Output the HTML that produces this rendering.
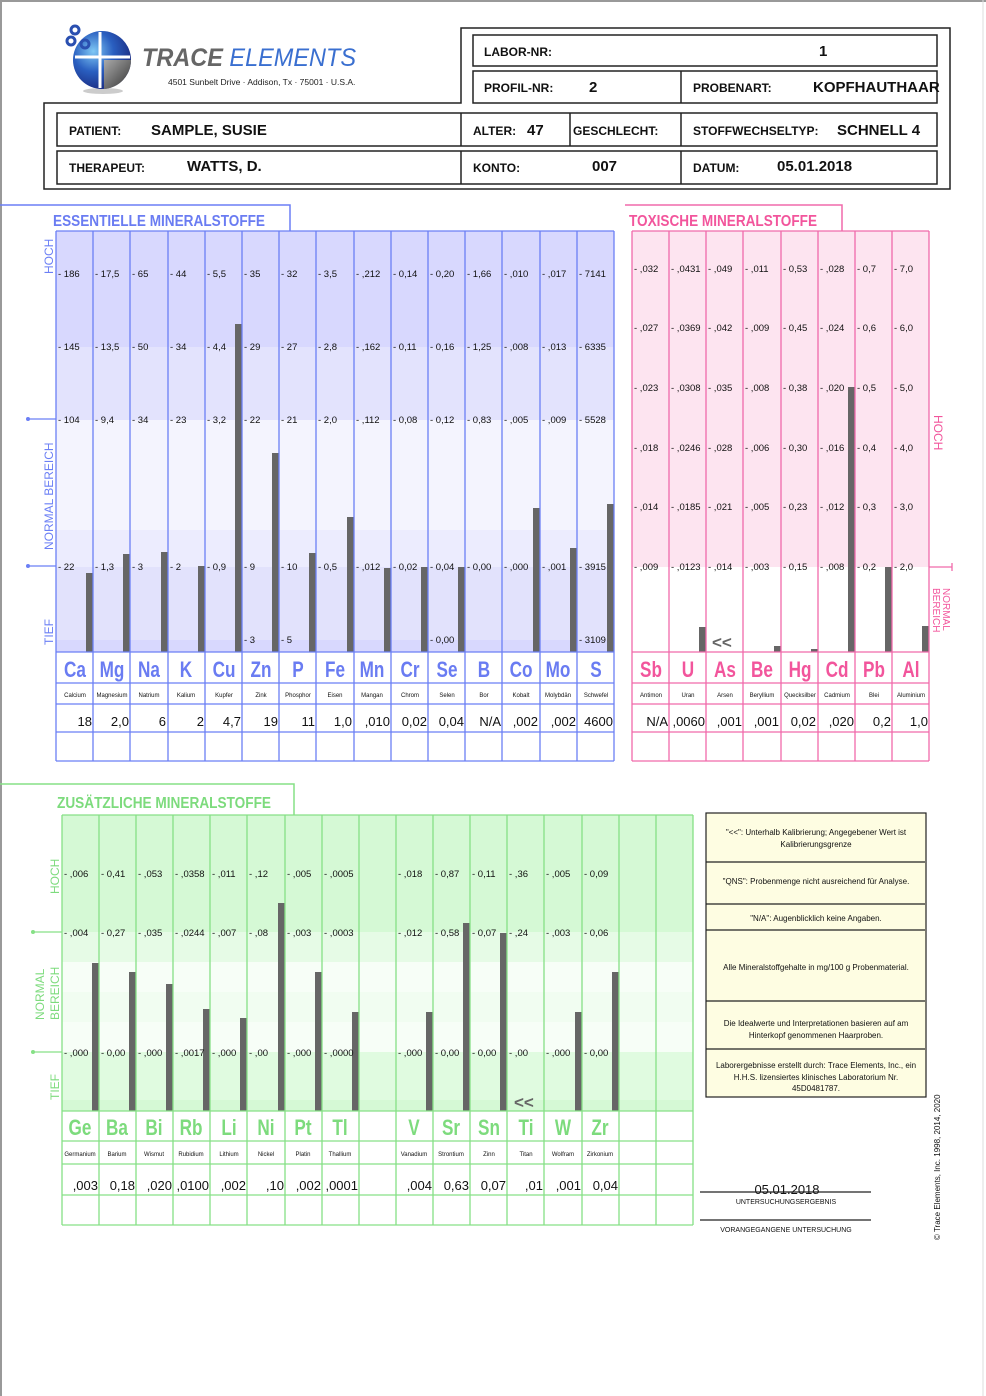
<!DOCTYPE html>
<html><head><meta charset="utf-8"><style>
html,body{margin:0;padding:0;background:#fff}
svg{display:block}
text{font-family:"Liberation Sans",Arial,sans-serif}
.t{font-size:9.5px;fill:#111}
.sb{font-weight:bold;font-size:22px;text-anchor:middle}
.nm{font-size:6px;text-anchor:middle;fill:#111}
.v{font-size:13px;text-anchor:end;fill:#111}
.h{font-weight:bold;font-size:12px;fill:#111}
.hb{font-weight:bold;font-size:15px;fill:#111}
</style></head><body>
<svg width="986" height="1396" viewBox="0 0 986 1396" xmlns="http://www.w3.org/2000/svg">
<rect x="0" y="0" width="986" height="1396" fill="#fff"/>
<path d="M1 1396V1H986" stroke="#999" stroke-width="2" fill="none"/>
<line x1="983" y1="0" x2="983" y2="1396" stroke="#ddd" stroke-width="1"/>

<defs>
<radialGradient id="lg" cx="0.35" cy="0.35" r="0.7"><stop offset="0" stop-color="#7fc8f5"/><stop offset="0.5" stop-color="#2a5fc0"/><stop offset="1" stop-color="#1a2a80"/></radialGradient>
<linearGradient id="gg" x1="0" y1="0" x2="1" y2="1"><stop offset="0" stop-color="#aaa"/><stop offset="1" stop-color="#333"/></linearGradient>
</defs>
<ellipse cx="103" cy="91" rx="20" ry="3" fill="#ccc"/>
<circle cx="102" cy="60" r="29" fill="url(#lg)"/>
<path d="M104 60 L131 60 A29 29 0 0 1 104 89 Z" fill="url(#gg)"/>
<path d="M100 32 L100 88 M75 57 L130 57" stroke="#fff" stroke-width="3"/>
<circle cx="75" cy="30" r="4" fill="none" stroke="#2a4fb0" stroke-width="3"/>
<circle cx="71" cy="41" r="4" fill="none" stroke="#2a4fb0" stroke-width="3"/>
<circle cx="85" cy="44" r="4" fill="none" stroke="#2a4fb0" stroke-width="3"/>
<text x="142" y="66" font-size="25" font-style="italic" font-weight="bold" fill="#666" textLength="214" lengthAdjust="spacingAndGlyphs">TRACE <tspan fill="#3a6fd0" font-weight="normal">ELEMENTS</tspan></text>
<text x="168" y="85" font-size="8.5" fill="#222">4501 Sunbelt Drive · Addison, Tx · 75001 · U.S.A.</text>

<path d="M44 189V103H461V28H950V189Z" fill="none" stroke="#222" stroke-width="1.5"/>
<rect x="473" y="35" width="464" height="31" fill="none" stroke="#222" stroke-width="1.5"/>
<rect x="473" y="71" width="464" height="32" fill="none" stroke="#222" stroke-width="1.5"/>
<line x1="681" y1="71" x2="681" y2="103" stroke="#222" stroke-width="1.5"/>
<rect x="57" y="113" width="880" height="33" fill="none" stroke="#222" stroke-width="1.5"/>
<rect x="57" y="151" width="880" height="33" fill="none" stroke="#222" stroke-width="1.5"/>
<path d="M461 113V146M570 113V146M681 113V146M461 151V184M681 151V184" stroke="#222" stroke-width="1.5"/>
<text class="h" x="484" y="56">LABOR-NR:</text><text class="hb" x="819" y="56">1</text>
<text class="h" x="484" y="92">PROFIL-NR:</text><text class="hb" x="589" y="92">2</text>
<text class="h" x="693" y="92">PROBENART:</text><text class="hb" x="813" y="92">KOPFHAUTHAAR</text>
<text class="h" x="69" y="135">PATIENT:</text><text class="hb" x="151" y="135">SAMPLE, SUSIE</text>
<text class="h" x="473" y="135">ALTER:</text><text class="hb" x="527" y="135">47</text>
<text class="h" x="573" y="135">GESCHLECHT:</text>
<text class="h" x="693" y="135">STOFFWECHSELTYP:</text><text class="hb" x="837" y="135">SCHNELL 4</text>
<text class="h" x="69" y="172">THERAPEUT:</text><text class="hb" x="187" y="171">WATTS, D.</text>
<text class="h" x="473" y="172">KONTO:</text><text class="hb" x="592" y="171">007</text>
<text class="h" x="693" y="172">DATUM:</text><text class="hb" x="777" y="171">05.01.2018</text>

<!-- ESSENTIAL -->
<path d="M0 205H290V231" fill="none" stroke="#6b7ff5" stroke-width="1.5"/>
<text x="53" y="226" font-weight="bold" font-size="16" fill="#6a7cf2" textLength="212" lengthAdjust="spacingAndGlyphs">ESSENTIELLE MINERALSTOFFE</text>
<rect x="56" y="231" width="558" height="116" fill="#d8d8fe"/>
<rect x="56" y="347" width="558" height="73" fill="#e3e3fd"/>
<rect x="56" y="420" width="558" height="110" fill="#f4f4fe"/>
<rect x="56" y="530" width="558" height="37" fill="#ececfe"/>
<rect x="56" y="567" width="558" height="73" fill="#e2e2fc"/>
<rect x="56" y="640" width="558" height="12" fill="#d8d8fe"/>
<g fill="#666">
<rect x="86" y="573" width="7" height="79"/><rect x="123" y="554" width="7" height="98"/><rect x="161" y="552" width="7" height="100"/>
<rect x="198" y="566" width="7" height="86"/><rect x="235" y="324" width="7" height="328"/><rect x="272" y="453" width="7" height="199"/>
<rect x="309" y="553" width="7" height="99"/><rect x="347" y="517" width="7" height="135"/><rect x="384" y="568" width="7" height="84"/>
<rect x="421" y="567" width="7" height="85"/><rect x="458" y="567" width="7" height="85"/><rect x="533" y="508" width="7" height="144"/>
<rect x="570" y="548" width="7" height="104"/><rect x="607" y="504" width="7" height="148"/>
</g>
<g stroke="#6b7ff5" stroke-width="1.3" fill="none">
<path d="M56 231V761M93 231V761M130 231V761M168 231V761M205 231V761M242 231V761M279 231V761M316 231V761M354 231V761M391 231V761M428 231V761M465 231V761M502 231V761M540 231V761M577 231V761M614 231V761"/>
<path d="M56 231H614M56 652H614M56 683H614M56 704H614M56 732H614M56 761H614"/>
<path d="M28 419H56M28 566H56"/>
</g>
<circle cx="28" cy="419" r="2" fill="#6b7ff5"/><circle cx="28" cy="566" r="2" fill="#6b7ff5"/>
<g font-size="12" fill="#6b7ff5">
<text transform="translate(53,274) rotate(-90)">HOCH</text>
<text transform="translate(53,550) rotate(-90)">NORMAL   BEREICH</text>
<text transform="translate(53,645) rotate(-90)">TIEF</text>
</g>
<text class="t" x="58" y="277">- 186</text><text class="t" x="95" y="277">- 17,5</text><text class="t" x="132" y="277">- 65</text><text class="t" x="170" y="277">- 44</text><text class="t" x="207" y="277">- 5,5</text><text class="t" x="244" y="277">- 35</text><text class="t" x="281" y="277">- 32</text><text class="t" x="318" y="277">- 3,5</text><text class="t" x="356" y="277">- ,212</text><text class="t" x="393" y="277">- 0,14</text><text class="t" x="430" y="277">- 0,20</text><text class="t" x="467" y="277">- 1,66</text><text class="t" x="504" y="277">- ,010</text><text class="t" x="542" y="277">- ,017</text><text class="t" x="579" y="277">- 7141</text>
<text class="t" x="58" y="350">- 145</text><text class="t" x="95" y="350">- 13,5</text><text class="t" x="132" y="350">- 50</text><text class="t" x="170" y="350">- 34</text><text class="t" x="207" y="350">- 4,4</text><text class="t" x="244" y="350">- 29</text><text class="t" x="281" y="350">- 27</text><text class="t" x="318" y="350">- 2,8</text><text class="t" x="356" y="350">- ,162</text><text class="t" x="393" y="350">- 0,11</text><text class="t" x="430" y="350">- 0,16</text><text class="t" x="467" y="350">- 1,25</text><text class="t" x="504" y="350">- ,008</text><text class="t" x="542" y="350">- ,013</text><text class="t" x="579" y="350">- 6335</text>
<text class="t" x="58" y="423">- 104</text><text class="t" x="95" y="423">- 9,4</text><text class="t" x="132" y="423">- 34</text><text class="t" x="170" y="423">- 23</text><text class="t" x="207" y="423">- 3,2</text><text class="t" x="244" y="423">- 22</text><text class="t" x="281" y="423">- 21</text><text class="t" x="318" y="423">- 2,0</text><text class="t" x="356" y="423">- ,112</text><text class="t" x="393" y="423">- 0,08</text><text class="t" x="430" y="423">- 0,12</text><text class="t" x="467" y="423">- 0,83</text><text class="t" x="504" y="423">- ,005</text><text class="t" x="542" y="423">- ,009</text><text class="t" x="579" y="423">- 5528</text>
<text class="t" x="58" y="570">- 22</text><text class="t" x="95" y="570">- 1,3</text><text class="t" x="132" y="570">- 3</text><text class="t" x="170" y="570">- 2</text><text class="t" x="207" y="570">- 0,9</text><text class="t" x="244" y="570">- 9</text><text class="t" x="281" y="570">- 10</text><text class="t" x="318" y="570">- 0,5</text><text class="t" x="356" y="570">- ,012</text><text class="t" x="393" y="570">- 0,02</text><text class="t" x="430" y="570">- 0,04</text><text class="t" x="467" y="570">- 0,00</text><text class="t" x="504" y="570">- ,000</text><text class="t" x="542" y="570">- ,001</text><text class="t" x="579" y="570">- 3915</text>
<text class="t" x="244" y="643">- 3</text><text class="t" x="281" y="643">- 5</text><text class="t" x="430" y="643">- 0,00</text><text class="t" x="579" y="643">- 3109</text>
<g fill="#6a7cf2">
<text class="sb" transform="translate(75 677) scale(.78 1)">Ca</text><text class="sb" transform="translate(112 677) scale(.78 1)">Mg</text><text class="sb" transform="translate(149 677) scale(.78 1)">Na</text><text class="sb" transform="translate(186 677) scale(.78 1)">K</text><text class="sb" transform="translate(224 677) scale(.78 1)">Cu</text><text class="sb" transform="translate(261 677) scale(.78 1)">Zn</text><text class="sb" transform="translate(298 677) scale(.78 1)">P</text><text class="sb" transform="translate(335 677) scale(.78 1)">Fe</text><text class="sb" transform="translate(372 677) scale(.78 1)">Mn</text><text class="sb" transform="translate(410 677) scale(.78 1)">Cr</text><text class="sb" transform="translate(447 677) scale(.78 1)">Se</text><text class="sb" transform="translate(484 677) scale(.78 1)">B</text><text class="sb" transform="translate(521 677) scale(.78 1)">Co</text><text class="sb" transform="translate(558 677) scale(.78 1)">Mo</text><text class="sb" transform="translate(596 677) scale(.78 1)">S</text>
</g>
<text class="nm" x="75" y="697">Calcium</text><text class="nm" x="112" y="697">Magnesium</text><text class="nm" x="149" y="697">Natrium</text><text class="nm" x="186" y="697">Kalium</text><text class="nm" x="224" y="697">Kupfer</text><text class="nm" x="261" y="697">Zink</text><text class="nm" x="298" y="697">Phosphor</text><text class="nm" x="335" y="697">Eisen</text><text class="nm" x="372" y="697">Mangan</text><text class="nm" x="410" y="697">Chrom</text><text class="nm" x="447" y="697">Selen</text><text class="nm" x="484" y="697">Bor</text><text class="nm" x="521" y="697">Kobalt</text><text class="nm" x="558" y="697">Molybdän</text><text class="nm" x="596" y="697">Schwefel</text>
<text class="v" x="92" y="726">18</text><text class="v" x="129" y="726">2,0</text><text class="v" x="166" y="726">6</text><text class="v" x="204" y="726">2</text><text class="v" x="241" y="726">4,7</text><text class="v" x="278" y="726">19</text><text class="v" x="315" y="726">11</text><text class="v" x="352" y="726">1,0</text><text class="v" x="390" y="726">,010</text><text class="v" x="427" y="726">0,02</text><text class="v" x="464" y="726">0,04</text><text class="v" x="501" y="726">N/A</text><text class="v" x="538" y="726">,002</text><text class="v" x="576" y="726">,002</text><text class="v" x="613" y="726">4600</text>

<!-- TOXIC -->
<path d="M625 205H842V231" fill="none" stroke="#f06aab" stroke-width="1.5"/>
<text x="629" y="226" font-weight="bold" font-size="16" fill="#f2559c" textLength="188" lengthAdjust="spacingAndGlyphs">TOXISCHE MINERALSTOFFE</text>
<rect x="632" y="231" width="297" height="336" fill="#fde4f0"/>
<g fill="#666">
<rect x="699" y="627" width="7" height="25"/><rect x="774" y="646" width="7" height="6"/><rect x="811" y="649" width="7" height="3"/>
<rect x="848" y="387" width="7" height="265"/><rect x="885" y="567" width="7" height="85"/><rect x="922" y="626" width="7" height="26"/>
</g>
<text x="712" y="648" font-size="17" font-weight="bold" fill="#666">&lt;&lt;</text>
<g stroke="#f06aab" stroke-width="1.3" fill="none">
<path d="M632 231V761M669 231V761M706 231V761M743 231V761M781 231V761M818 231V761M855 231V761M892 231V761M929 231V761"/>
<path d="M632 231H929M632 652H929M632 683H929M632 704H929M632 732H929M632 761H929"/>
<path d="M929 567H952M952 563V571"/>
</g>
<g font-size="12" fill="#f2559c">
<text transform="translate(934,415) rotate(90)">HOCH</text>
<text transform="translate(943,588) rotate(90)" font-size="10">NORMAL</text>
<text transform="translate(933,588) rotate(90)" font-size="10">BEREICH</text>
</g>
<text class="t" x="634" y="272">- ,032</text><text class="t" x="671" y="272">- ,0431</text><text class="t" x="708" y="272">- ,049</text><text class="t" x="745" y="272">- ,011</text><text class="t" x="783" y="272">- 0,53</text><text class="t" x="820" y="272">- ,028</text><text class="t" x="857" y="272">- 0,7</text><text class="t" x="894" y="272">- 7,0</text>
<text class="t" x="634" y="331">- ,027</text><text class="t" x="671" y="331">- ,0369</text><text class="t" x="708" y="331">- ,042</text><text class="t" x="745" y="331">- ,009</text><text class="t" x="783" y="331">- 0,45</text><text class="t" x="820" y="331">- ,024</text><text class="t" x="857" y="331">- 0,6</text><text class="t" x="894" y="331">- 6,0</text>
<text class="t" x="634" y="391">- ,023</text><text class="t" x="671" y="391">- ,0308</text><text class="t" x="708" y="391">- ,035</text><text class="t" x="745" y="391">- ,008</text><text class="t" x="783" y="391">- 0,38</text><text class="t" x="820" y="391">- ,020</text><text class="t" x="857" y="391">- 0,5</text><text class="t" x="894" y="391">- 5,0</text>
<text class="t" x="634" y="451">- ,018</text><text class="t" x="671" y="451">- ,0246</text><text class="t" x="708" y="451">- ,028</text><text class="t" x="745" y="451">- ,006</text><text class="t" x="783" y="451">- 0,30</text><text class="t" x="820" y="451">- ,016</text><text class="t" x="857" y="451">- 0,4</text><text class="t" x="894" y="451">- 4,0</text>
<text class="t" x="634" y="510">- ,014</text><text class="t" x="671" y="510">- ,0185</text><text class="t" x="708" y="510">- ,021</text><text class="t" x="745" y="510">- ,005</text><text class="t" x="783" y="510">- 0,23</text><text class="t" x="820" y="510">- ,012</text><text class="t" x="857" y="510">- 0,3</text><text class="t" x="894" y="510">- 3,0</text>
<text class="t" x="634" y="570">- ,009</text><text class="t" x="671" y="570">- ,0123</text><text class="t" x="708" y="570">- ,014</text><text class="t" x="745" y="570">- ,003</text><text class="t" x="783" y="570">- 0,15</text><text class="t" x="820" y="570">- ,008</text><text class="t" x="857" y="570">- 0,2</text><text class="t" x="894" y="570">- 2,0</text>
<g fill="#f2559c">
<text class="sb" transform="translate(651 677) scale(.78 1)">Sb</text><text class="sb" transform="translate(688 677) scale(.78 1)">U</text><text class="sb" transform="translate(725 677) scale(.78 1)">As</text><text class="sb" transform="translate(762 677) scale(.78 1)">Be</text><text class="sb" transform="translate(800 677) scale(.78 1)">Hg</text><text class="sb" transform="translate(837 677) scale(.78 1)">Cd</text><text class="sb" transform="translate(874 677) scale(.78 1)">Pb</text><text class="sb" transform="translate(911 677) scale(.78 1)">Al</text>
</g>
<text class="nm" x="651" y="697">Antimon</text><text class="nm" x="688" y="697">Uran</text><text class="nm" x="725" y="697">Arsen</text><text class="nm" x="762" y="697">Beryllium</text><text class="nm" x="800" y="697">Quecksilber</text><text class="nm" x="837" y="697">Cadmium</text><text class="nm" x="874" y="697">Blei</text><text class="nm" x="911" y="697">Aluminium</text>
<text class="v" x="668" y="726">N/A</text><text class="v" x="705" y="726">,0060</text><text class="v" x="742" y="726">,001</text><text class="v" x="779" y="726">,001</text><text class="v" x="816" y="726">0,02</text><text class="v" x="854" y="726">,020</text><text class="v" x="891" y="726">0,2</text><text class="v" x="928" y="726">1,0</text>

<!-- GREEN -->
<path d="M0 784H294V815" fill="none" stroke="#86e086" stroke-width="1.5"/>
<text x="57" y="808" font-weight="bold" font-size="16" fill="#7ddb7d" textLength="214" lengthAdjust="spacingAndGlyphs">ZUSÄTZLICHE MINERALSTOFFE</text>
<rect x="62" y="815" width="631" height="117" fill="#d5f9d5"/>
<rect x="62" y="932" width="631" height="30" fill="#e6fbe6"/>
<rect x="62" y="962" width="631" height="90" fill="#f7fef7"/>
<rect x="62" y="992" width="631" height="30" fill="#f1fdf1"/>
<rect x="62" y="1052" width="631" height="48" fill="#e0fbe0"/>
<rect x="62" y="1100" width="631" height="11" fill="#d5f9d5"/>
<g fill="#666">
<rect x="92" y="963" width="7" height="148"/><rect x="129" y="972" width="7" height="139"/><rect x="166" y="984" width="7" height="127"/>
<rect x="203" y="1009" width="7" height="102"/><rect x="240" y="1018" width="7" height="93"/><rect x="278" y="903" width="7" height="208"/>
<rect x="315" y="972" width="7" height="139"/><rect x="352" y="1012" width="7" height="99"/><rect x="426" y="1012" width="7" height="99"/>
<rect x="463" y="923" width="7" height="188"/><rect x="500" y="933" width="7" height="178"/><rect x="575" y="1012" width="7" height="99"/>
<rect x="612" y="972" width="7" height="139"/>
</g>
<text x="514" y="1108" font-size="17" font-weight="bold" fill="#666">&lt;&lt;</text>
<g stroke="#86e086" stroke-width="1.3" fill="none">
<path d="M62 815V1225M99 815V1225M136 815V1225M173 815V1225M210 815V1225M247 815V1225M285 815V1225M322 815V1225M359 815V1225M396 815V1225M433 815V1225M470 815V1225M507 815V1225M544 815V1225M582 815V1225M619 815V1225M656 815V1225M693 815V1225"/>
<path d="M62 815H693M62 1111H693M62 1141H693M62 1164H693M62 1195H693M62 1225H693"/>
<path d="M33 932H62M33 1052H62"/>
</g>
<circle cx="33" cy="932" r="2" fill="#86e086"/><circle cx="33" cy="1052" r="2" fill="#86e086"/>
<g font-size="12" fill="#7ddb7d">
<text transform="translate(59,894) rotate(-90)">HOCH</text>
<text transform="translate(44,1020) rotate(-90)">NORMAL</text>
<text transform="translate(59,1020) rotate(-90)">BEREICH</text>
<text transform="translate(59,1100) rotate(-90)">TIEF</text>
</g>
<text class="t" x="64" y="877">- ,006</text><text class="t" x="101" y="877">- 0,41</text><text class="t" x="138" y="877">- ,053</text><text class="t" x="175" y="877">- ,0358</text><text class="t" x="212" y="877">- ,011</text><text class="t" x="249" y="877">- ,12</text><text class="t" x="287" y="877">- ,005</text><text class="t" x="324" y="877">- ,0005</text><text class="t" x="398" y="877">- ,018</text><text class="t" x="435" y="877">- 0,87</text><text class="t" x="472" y="877">- 0,11</text><text class="t" x="509" y="877">- ,36</text><text class="t" x="546" y="877">- ,005</text><text class="t" x="584" y="877">- 0,09</text>
<text class="t" x="64" y="936">- ,004</text><text class="t" x="101" y="936">- 0,27</text><text class="t" x="138" y="936">- ,035</text><text class="t" x="175" y="936">- ,0244</text><text class="t" x="212" y="936">- ,007</text><text class="t" x="249" y="936">- ,08</text><text class="t" x="287" y="936">- ,003</text><text class="t" x="324" y="936">- ,0003</text><text class="t" x="398" y="936">- ,012</text><text class="t" x="435" y="936">- 0,58</text><text class="t" x="472" y="936">- 0,07</text><text class="t" x="509" y="936">- ,24</text><text class="t" x="546" y="936">- ,003</text><text class="t" x="584" y="936">- 0,06</text>
<text class="t" x="64" y="1056">- ,000</text><text class="t" x="101" y="1056">- 0,00</text><text class="t" x="138" y="1056">- ,000</text><text class="t" x="175" y="1056">- ,0017</text><text class="t" x="212" y="1056">- ,000</text><text class="t" x="249" y="1056">- ,00</text><text class="t" x="287" y="1056">- ,000</text><text class="t" x="324" y="1056">- ,0000</text><text class="t" x="398" y="1056">- ,000</text><text class="t" x="435" y="1056">- 0,00</text><text class="t" x="472" y="1056">- 0,00</text><text class="t" x="509" y="1056">- ,00</text><text class="t" x="546" y="1056">- ,000</text><text class="t" x="584" y="1056">- 0,00</text>
<g fill="#7ddb7d">
<text class="sb" transform="translate(80 1135) scale(.78 1)">Ge</text><text class="sb" transform="translate(117 1135) scale(.78 1)">Ba</text><text class="sb" transform="translate(154 1135) scale(.78 1)">Bi</text><text class="sb" transform="translate(191 1135) scale(.78 1)">Rb</text><text class="sb" transform="translate(229 1135) scale(.78 1)">Li</text><text class="sb" transform="translate(266 1135) scale(.78 1)">Ni</text><text class="sb" transform="translate(303 1135) scale(.78 1)">Pt</text><text class="sb" transform="translate(340 1135) scale(.78 1)">Tl</text><text class="sb" transform="translate(414 1135) scale(.78 1)">V</text><text class="sb" transform="translate(451 1135) scale(.78 1)">Sr</text><text class="sb" transform="translate(489 1135) scale(.78 1)">Sn</text><text class="sb" transform="translate(526 1135) scale(.78 1)">Ti</text><text class="sb" transform="translate(563 1135) scale(.78 1)">W</text><text class="sb" transform="translate(600 1135) scale(.78 1)">Zr</text>
</g>
<text class="nm" x="80" y="1156">Germanium</text><text class="nm" x="117" y="1156">Barium</text><text class="nm" x="154" y="1156">Wismut</text><text class="nm" x="191" y="1156">Rubidium</text><text class="nm" x="229" y="1156">Lithium</text><text class="nm" x="266" y="1156">Nickel</text><text class="nm" x="303" y="1156">Platin</text><text class="nm" x="340" y="1156">Thallium</text><text class="nm" x="414" y="1156">Vanadium</text><text class="nm" x="451" y="1156">Strontium</text><text class="nm" x="489" y="1156">Zinn</text><text class="nm" x="526" y="1156">Titan</text><text class="nm" x="563" y="1156">Wolfram</text><text class="nm" x="600" y="1156">Zirkonium</text>
<text class="v" x="98" y="1190">,003</text><text class="v" x="135" y="1190">0,18</text><text class="v" x="172" y="1190">,020</text><text class="v" x="209" y="1190">,0100</text><text class="v" x="246" y="1190">,002</text><text class="v" x="284" y="1190">,10</text><text class="v" x="321" y="1190">,002</text><text class="v" x="358" y="1190">,0001</text><text class="v" x="432" y="1190">,004</text><text class="v" x="469" y="1190">0,63</text><text class="v" x="506" y="1190">0,07</text><text class="v" x="543" y="1190">,01</text><text class="v" x="581" y="1190">,001</text><text class="v" x="618" y="1190">0,04</text>

<!-- legend -->
<rect x="706" y="813" width="220" height="284" fill="#fefde2" stroke="#222" stroke-width="1.2"/>
<path d="M706 862H925M706 904H925M706 930H925M706 1001H925M706 1049H925" stroke="#222" stroke-width="1.2"/>
<g font-size="8" text-anchor="middle" fill="#111">
<text x="816" y="835">"&lt;&lt;": Unterhalb Kalibrierung; Angegebener Wert ist</text>
<text x="816" y="847">Kalibrierungsgrenze</text>
<text x="816" y="884">"QNS": Probenmenge nicht ausreichend für Analyse.</text>
<text x="816" y="921">"N/A": Augenblicklich keine Angaben.</text>
<text x="816" y="970">Alle Mineralstoffgehalte in mg/100 g Probenmaterial.</text>
<text x="816" y="1026">Die Idealwerte und Interpretationen basieren auf am</text>
<text x="816" y="1038">Hinterkopf genommenen Haarproben.</text>
<text x="816" y="1068">Laborergebnisse erstellt durch: Trace Elements, Inc., ein</text>
<text x="816" y="1080">H.H.S. lizensiertes klinisches Laboratorium Nr.</text>
<text x="816" y="1091">45D0481787.</text>
</g>
<text x="787" y="1194" font-size="13" text-anchor="middle" fill="#111">05.01.2018</text>
<path d="M700 1192H871M700 1220H871" stroke="#222" stroke-width="1.2"/>
<text x="786" y="1204" font-size="7" text-anchor="middle" fill="#111">UNTERSUCHUNGSERGEBNIS</text>
<text x="786" y="1232" font-size="7" text-anchor="middle" fill="#111">VORANGEGANGENE UNTERSUCHUNG</text>
<text transform="translate(940,1240) rotate(-90)" font-size="8" fill="#111">© Trace Elements, Inc. 1998, 2014, 2020</text>
</svg>
</body></html>
